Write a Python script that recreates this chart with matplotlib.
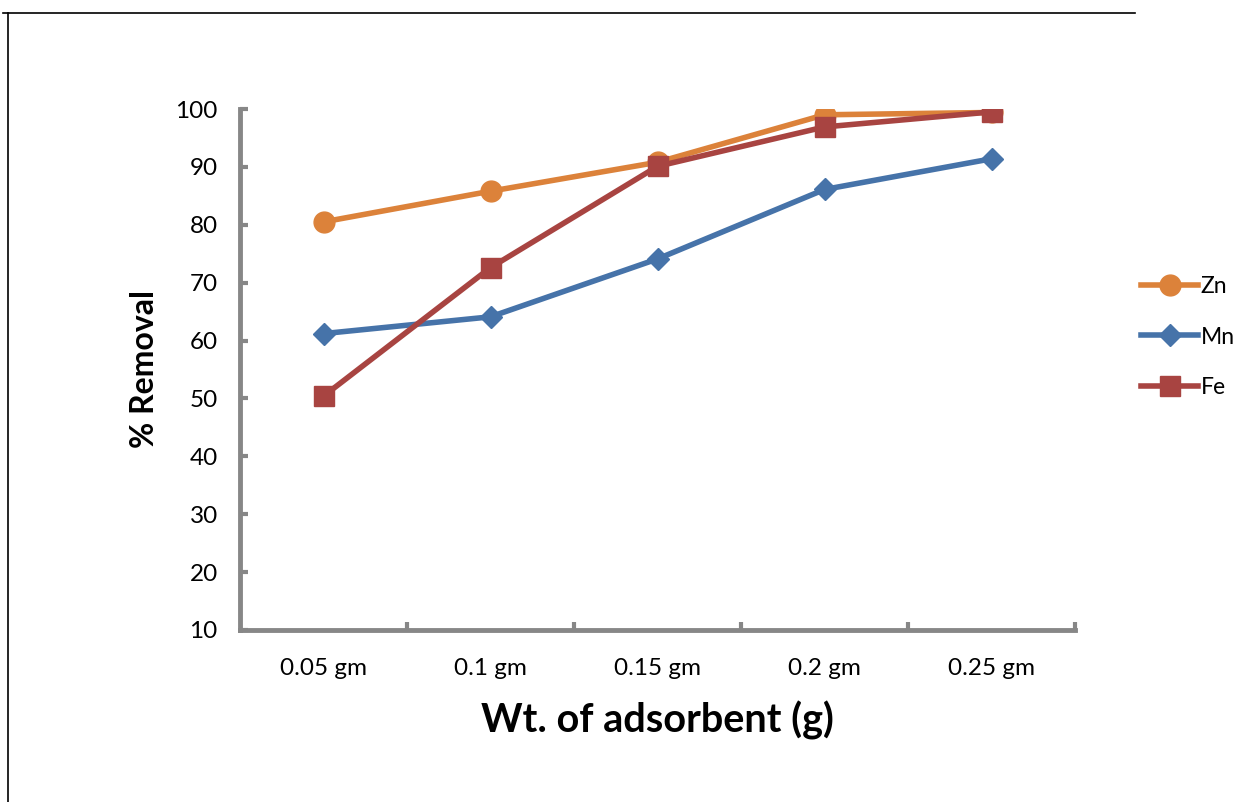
import matplotlib.pyplot as plt
from matplotlib.lines import Line2D

# data
weights = ['0.05 gm', '0.1 gm', '0.15 gm', '0.2 gm', '0.25 gm']
zn = [80.5, 85.8, 90.8, 99.0, 99.4]
mn = [61.2, 64.1, 74.1, 86.1, 91.4]
fe = [50.4, 72.6, 90.1, 96.9, 99.5]
yticks = [10, 20, 30, 40, 50, 60, 70, 80, 90, 100]

plt.rcParams['font.family'] = ['Lato', 'DejaVu Sans']

fig = plt.figure(figsize=(12.38, 8.02), dpi=100)
ax = fig.add_axes([240 / 1238, 1 - 630 / 802, 835 / 1238, 521 / 802])

x = list(range(len(weights)))
ax.plot(x, zn, color='#DC823A', lw=4, marker='o', ms=15, label='Zn', zorder=3)
ax.plot(x, mn, color='#4673A9', lw=4, marker='D', ms=11, label='Mn', zorder=4)
ax.plot(x, fe, color='#A84441', lw=4, marker='s', ms=15, label='Fe', zorder=5)

ax.set_xlim(-0.5, len(weights) - 0.5)
ax.set_ylim(10, 100)
ax.set_yticks(yticks)
ax.set_xticks(x)
ax.set_xticklabels(weights)
ax.set_xticks([i + 0.5 for i in range(len(weights))], minor=True)

gray = '#878787'
for s in ['top', 'right']:
    ax.spines[s].set_visible(False)
for s in ['left', 'bottom']:
    ax.spines[s].set_color(gray)
    ax.spines[s].set_linewidth(3.5)
ax.tick_params(axis='y', direction='in', length=6, width=3, color=gray,
               labelsize=17.5, pad=16)
ax.tick_params(axis='x', which='major', length=0, labelsize=17.5, pad=20)
ax.tick_params(axis='x', which='minor', direction='in', length=6, width=3, color=gray)

ax.set_ylabel('% Removal', fontsize=23, fontweight='bold', labelpad=12)
ax.set_xlabel('Wt. of adsorbent (g)', fontsize=28.5, fontweight='bold', labelpad=16)

leg = fig.legend(loc='center left', bbox_to_anchor=(1141 / 1238, 1 - 337 / 802),
                 frameon=False, fontsize=16.5, handlelength=2.5, labelspacing=1.3,
                 handletextpad=0.1, borderaxespad=0, borderpad=0)

# outer frame lines
fig.add_artist(Line2D([3 / 1238, 1135 / 1238], [1 - 13 / 802, 1 - 13 / 802],
                      transform=fig.transFigure, color='black', lw=1.2))
fig.add_artist(Line2D([8 / 1238, 8 / 1238], [1 - 13 / 802, 0],
                      transform=fig.transFigure, color='black', lw=1.2))

fig.savefig('out.png', dpi=100)
